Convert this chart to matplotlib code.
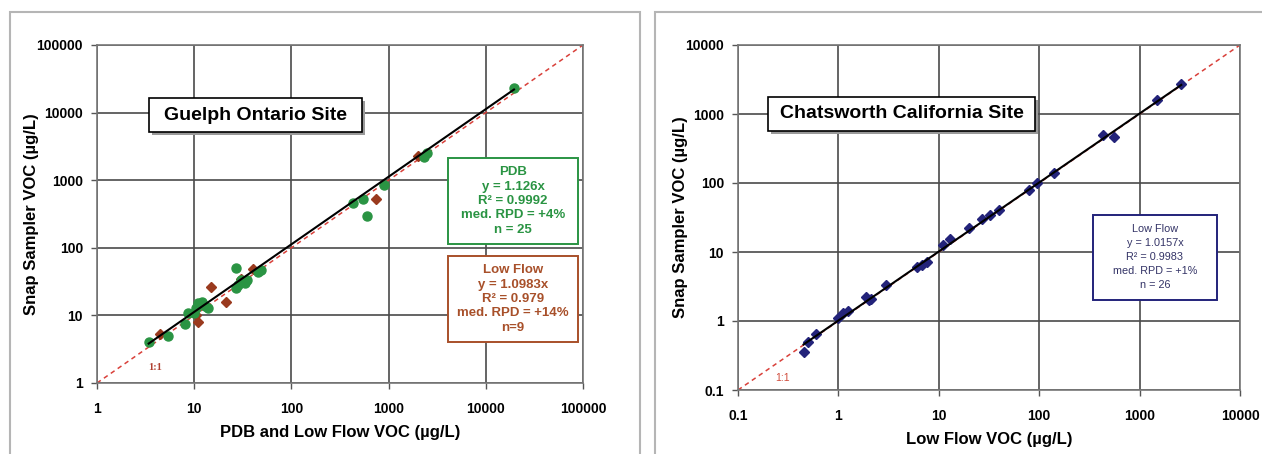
import numpy as np
import matplotlib.pyplot as plt
from matplotlib.patches import Rectangle

plt.rcParams['font.family'] = ['Liberation Sans', 'DejaVu Sans']

# Guelph: PDB (green circles)
pdb_x = [3.4, 5.4, 8.0, 8.7, 10.0, 11.0, 12.0, 13.0, 14.0, 10.5, 27.0, 27.0, 28.0, 30.0,
         33.0, 35.0, 45.0, 49.0, 434.0, 550.0, 600.0, 900.0, 2300.0, 2500.0, 19500.0]
pdb_y = [4.0, 5.0, 7.5, 11.0, 11.0, 15.5, 16.0, 14.0, 12.7, 13.0, 50.0, 25.0, 28.0, 33.0,
         30.0, 33.0, 44.0, 47.0, 455.0, 521.0, 300.0, 850.0, 2200.0, 2500.0, 23000.0]
# Guelph: Low Flow (brown diamonds)
lf_x = [4.5, 10.5, 11.0, 15.0, 21.0, 30.0, 40.0, 750.0, 2000.0]
lf_y = [5.3, 10.0, 8.0, 26.0, 16.0, 35.0, 48.0, 530.0, 2300.0]
guelph_pdb_slope = 1.126

# Chatsworth: Low Flow (blue diamonds)
ch_x = [0.45, 0.5, 0.6, 1.0, 1.12, 1.25, 1.9, 2.0, 2.1, 3.0, 6.1, 6.8, 7.6, 11.1, 13.0,
        20.0, 27.0, 32.0, 40.0, 80.0, 95.0, 140.0, 430.0, 560.0, 1500.0, 2600.0]
ch_y = [0.36, 0.5, 0.65, 1.1, 1.29, 1.4, 2.25, 2.0, 2.1, 3.3, 6.1, 6.5, 7.2, 12.6, 15.5,
        22.0, 30.0, 34.0, 40.0, 80.0, 100.0, 140.0, 490.0, 460.0, 1600.0, 2700.0]
ch_slope = 1.0157

left_ticks = [1, 10, 100, 1000, 10000, 100000]
left_labels = ["1", "10", "100", "1000", "10000", "100000"]
right_ticks = [0.1, 1, 10, 100, 1000, 10000]
right_labels = ["0.1", "1", "10", "100", "1000", "10000"]

pdb_text = "PDB\ny = 1.126x\nR² = 0.9992\nmed. RPD = +4%\nn = 25"
lf_text = "Low Flow\ny = 1.0983x\nR² = 0.979\nmed. RPD = +14%\nn=9"
ch_text = "Low Flow\ny = 1.0157x\nR² = 0.9983\nmed. RPD = +1%\nn = 26"

W, H = 1262, 454
green = "#2a9443"
brown = "#a8502a"
navy = "#23237a"

fig = plt.figure(figsize=(W / 100, H / 100), dpi=100)
fig.patch.set_facecolor("white")


#Прямоугольник в пиксельных координатах рисунка
def px_box(x0, y0, x1, y1, edge, lw=1.2, face="white", z=5):
    r = Rectangle((x0 / W, 1 - y1 / H), (x1 - x0) / W, (y1 - y0) / H,
                  transform=fig.transFigure, facecolor=face, edgecolor=edge,
                  linewidth=lw, zorder=z)
    fig.add_artist(r)
    return r


#Рамки панелей
px_box(10, 12, 640, 470, "#b5b5b5", lw=1.5, z=0)
px_box(655, 12, 1275, 470, "#b5b5b5", lw=1.5, z=0)


def setup_axes(ax, ticks, labels, xlabel, ylabel):
    ax.set_xscale("log")
    ax.set_yscale("log")
    ax.set_xlim(ticks[0], ticks[-1])
    ax.set_ylim(ticks[0], ticks[-1])
    ax.set_xticks(ticks)
    ax.set_xticklabels(labels, fontsize=10, fontweight="bold")
    ax.set_yticks(ticks)
    ax.set_yticklabels(labels, fontsize=10, fontweight="bold")
    ax.minorticks_off()
    ax.tick_params(length=4, width=1, color="#555555")
    ax.tick_params(axis="x", pad=10)
    ax.tick_params(axis="y", pad=6)
    ax.grid(True, color="#4a4a4a", linewidth=1.2)
    ax.set_axisbelow(True)
    for s in ax.spines.values():
        s.set_color("#777777")
        s.set_linewidth(1.2)
    ax.set_xlabel(xlabel, fontsize=12, fontweight="bold", labelpad=6)
    ax.set_ylabel(ylabel, fontsize=12, fontweight="bold", labelpad=-2)


#Левая панель
ax1 = fig.add_axes([97 / W, 1 - 383 / H, 486 / W, 338 / H])
setup_axes(ax1, left_ticks, left_labels, "PDB and Low Flow VOC (µg/L)",
           "Snap Sampler VOC (µg/L)")
ax1.plot(left_ticks, left_ticks, color="#d9403a", linestyle=(0, (3, 2.5)), linewidth=1.1, zorder=2)
ax1.plot(lf_x, lf_y, linestyle="none", marker="D", markersize=5, color="#9a3a1e", zorder=3)
ax1.plot(pdb_x, pdb_y, linestyle="none", marker="o", markersize=6.5, color=green, zorder=3)
fx = np.array([min(pdb_x), max(pdb_x)])
ax1.plot(fx, guelph_pdb_slope * fx, color="black", linewidth=1.5, zorder=4)
ax1.text(3.95, 1.67, "1:1", color="#b04030", fontsize=7.5, fontweight="bold",
         ha="center", va="center", family=["Liberation Serif", "DejaVu Serif"])

#Правая панель
ax2 = fig.add_axes([738 / W, 1 - 390 / H, 502 / W, 345 / H])
setup_axes(ax2, right_ticks, right_labels, "Low Flow VOC (µg/L)",
           "Snap Sampler VOC (µg/L)")
ax2.plot(right_ticks, right_ticks, color="#d9403a", linestyle=(0, (3, 2.5)), linewidth=1.1, zorder=2)
ax2.plot(ch_x, ch_y, linestyle="none", marker="D", markersize=5, color=navy, zorder=3)
cx = np.array([min(ch_x), max(ch_x)])
ax2.plot(cx, ch_slope * cx, color="black", linewidth=1.5, zorder=4)
ax2.text(0.28, 0.148, "1:1", color="#d04a3a", fontsize=7.5, ha="center", va="center")

#Заголовки с тенью
px_box(152, 101, 365, 135, "none", face="#9a9a9a", z=5)
px_box(149, 98, 362, 132, "black", lw=1.2, z=6)
fig.text((149 + 362) / 2 / W, 1 - 115 / H, "Guelph Ontario Site", ha="center", va="center",
         fontsize=14, fontweight="bold", zorder=7)

px_box(771, 100, 1038, 134, "none", face="#9a9a9a", z=5)
px_box(768, 97, 1035, 131, "black", lw=1.2, z=6)
fig.text((768 + 1035) / 2 / W, 1 - 114 / H, "Chatsworth California Site", ha="center",
         va="center", fontsize=14, fontweight="bold", zorder=7)

#Блоки статистики
px_box(448, 158, 578, 244, green, lw=1.4)
fig.text(513 / W, 1 - 201 / H, pdb_text, ha="center", va="center", color=green,
         fontsize=9.5, fontweight="bold", linespacing=1.27, zorder=7)
px_box(448, 256, 578, 342, brown, lw=1.4)
fig.text(513 / W, 1 - 299 / H, lf_text, ha="center", va="center", color=brown,
         fontsize=9.5, fontweight="bold", linespacing=1.27, zorder=7)
px_box(1093, 215, 1217, 300, navy, lw=1.4)
fig.text(1155 / W, 1 - 257.5 / H, ch_text, ha="center", va="center", color="#333366",
         fontsize=7.8, linespacing=1.5, zorder=7)

fig.savefig("out.png", dpi=100)
